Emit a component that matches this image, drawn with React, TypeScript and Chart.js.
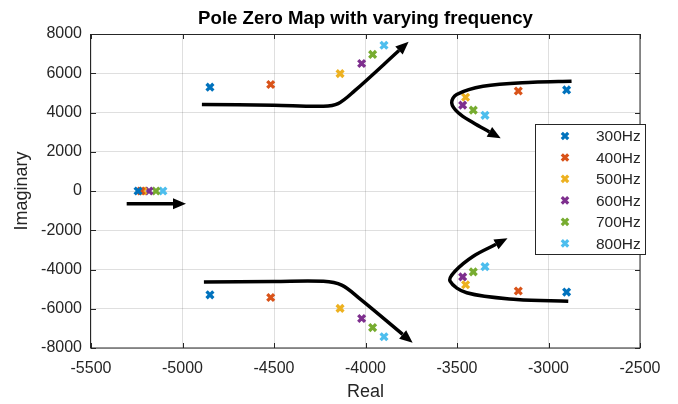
import React, { useEffect, useRef } from "react";
import { Chart, registerables } from "chart.js";

Chart.register(...registerables);

// ---- data ----
const FREQ_LABELS = ["300Hz", "400Hz", "500Hz", "600Hz", "700Hz", "800Hz"];
const COLORS = ["#0072BD", "#D95319", "#EDB120", "#7E2F8E", "#77AC30", "#4DBEEE"];

const LEFT_POLE_RE = [-4850, -4518, -4139, -4021, -3961, -3899];
const LEFT_POLE_IM = [5290, 5427, 5980, 6497, 6960, 7425];
const RIGHT_POLE_RE = [-2901, -3165, -3453, -3469, -3411, -3347];
const RIGHT_POLE_IM = [5150, 5095, 4775, 4375, 4120, 3855];
const REAL_POLE_RE = [-5243, -5227, -5216, -5183, -5145, -5107];
const REAL_POLE_IM = [0, 0, 0, 0, 0, 0];

// arrow paths (data coordinates); last point = base of arrowhead
const ARROW_UPPER_LEFT = [
  [-4894, 4408], [-4500, 4370], [-4230, 4320], [-4150, 4450], [-4060, 5100], [-3817, 7159],
];
const ARROW_LOWER_LEFT = [
  [-4883, -4640], [-4500, -4610], [-4230, -4600], [-4130, -4800], [-4030, -5500], [-3797, -7307],
];
const ARROW_UPPER_RIGHT = [
  [-2874, 5595], [-3085, 5544], [-3358, 5340], [-3502, 4917], [-3529, 4494], [-3493, 3985], [-3411, 3475], [-3323, 3011],
];
const ARROW_LOWER_RIGHT = [
  [-2892, -5615], [-3174, -5529], [-3447, -5187], [-3538, -4596], [-3511, -4087], [-3411, -3322], [-3287, -2716],
];
const ARROW_REAL = [
  [-5305, -650], [-5052, -650],
];

const X_MIN = -5500, X_MAX = -2500, X_STEP = 500;
const Y_MIN = -8000, Y_MAX = 8000, Y_STEP = 2000;

const TITLE = "Pole Zero Map with varying frequency";
const X_TITLE = "Real";
const Y_TITLE = "Imaginary";

const FONT = '"Liberation Sans", Arial, Helvetica, sans-serif';
const AXIS_COLOR = "#262626";

const ARROWS = [ARROW_UPPER_LEFT, ARROW_LOWER_LEFT, ARROW_UPPER_RIGHT, ARROW_LOWER_RIGHT, ARROW_REAL];

const decorPlugin = {
  id: "decor",
  afterDatasetsDraw(chart: any) {
    const ctx = chart.ctx;
    const ca = chart.chartArea;
    ctx.save();
    ctx.beginPath();
    ctx.rect(ca.left, ca.top, ca.right - ca.left, ca.bottom - ca.top);
    ctx.clip();
    chart.data.datasets.forEach((ds: any, i: number) => {
      if (!ds.isArrow) return;
      const pts = chart.getDatasetMeta(i).data;
      const last = pts[pts.length - 1];
      const prev = pts[pts.length - 2];
      let dx = last.x - (last.cp1x ?? prev.x);
      let dy = last.y - (last.cp1y ?? prev.y);
      if (Math.hypot(dx, dy) < 0.5) { dx = last.x - prev.x; dy = last.y - prev.y; }
      const len = Math.hypot(dx, dy) || 1;
      const ux = dx / len, uy = dy / len;
      const L = 13, W = 5.5;
      const tipX = last.x + ux * L, tipY = last.y + uy * L;
      ctx.beginPath();
      ctx.moveTo(tipX, tipY);
      ctx.lineTo(last.x - uy * W, last.y + ux * W);
      ctx.lineTo(last.x + uy * W, last.y - ux * W);
      ctx.closePath();
      ctx.fillStyle = "#000";
      ctx.fill();
    });
    ctx.restore();
  },
  afterDraw(chart: any) {
    const ctx = chart.ctx;
    const ca = chart.chartArea;
    const xs = chart.scales.x, ys = chart.scales.y;
    ctx.save();
    // axes box
    ctx.strokeStyle = AXIS_COLOR;
    ctx.lineWidth = 1;
    ctx.strokeRect(Math.round(ca.left) - 0.5, Math.round(ca.top) + 0.5, Math.round(ca.right - ca.left) + 0.5, Math.round(ca.bottom - ca.top) - 0.5);
    // inward ticks
    ctx.beginPath();
    const T = 5;
    xs.ticks.forEach((t: any) => {
      const px = Math.round(xs.getPixelForValue(t.value)) + 0.5;
      ctx.moveTo(px, ca.bottom); ctx.lineTo(px, ca.bottom - T);
      ctx.moveTo(px, ca.top); ctx.lineTo(px, ca.top + T);
    });
    ys.ticks.forEach((t: any) => {
      const py = Math.round(ys.getPixelForValue(t.value)) + 0.5;
      ctx.moveTo(ca.left, py); ctx.lineTo(ca.left + T, py);
      ctx.moveTo(ca.right, py); ctx.lineTo(ca.right - T, py);
    });
    ctx.stroke();

    // title
    ctx.fillStyle = "#000";
    ctx.font = `bold 18.6px ${FONT}`;
    ctx.textAlign = "center";
    ctx.textBaseline = "middle";
    ctx.fillText(TITLE, (ca.left + ca.right) / 2, 19);

    // legend
    const lx = 535, ly = 124, lw = 110, lh = 130;
    ctx.fillStyle = "#fff";
    ctx.fillRect(lx, ly, lw, lh);
    ctx.strokeStyle = AXIS_COLOR;
    ctx.lineWidth = 1;
    ctx.strokeRect(lx + 0.5, ly + 0.5, lw, lh);
    ctx.font = `15.5px ${FONT}`;
    ctx.textAlign = "left";
    ctx.textBaseline = "middle";
    FREQ_LABELS.forEach((lab, i) => {
      const cy = 136 + i * 21.47;
      const cx = 565;
      const r = 3.2;
      ctx.strokeStyle = COLORS[i];
      ctx.lineWidth = 3.2;
      ctx.beginPath();
      ctx.moveTo(cx - r, cy - r); ctx.lineTo(cx + r, cy + r);
      ctx.moveTo(cx + r, cy - r); ctx.lineTo(cx - r, cy + r);
      ctx.stroke();
      ctx.fillStyle = AXIS_COLOR;
      ctx.fillText(lab, 596, cy + 1);
    });
    ctx.restore();
  },
};

export default function App() {
  const ref = useRef<HTMLCanvasElement | null>(null);
  useEffect(() => {
    document.body.style.margin = "0";
    if (!ref.current) return;
    const markerSets = FREQ_LABELS.map((lab, i) => ({
      label: lab,
      data: [
        { x: LEFT_POLE_RE[i], y: LEFT_POLE_IM[i] },
        { x: LEFT_POLE_RE[i], y: -LEFT_POLE_IM[i] },
        { x: RIGHT_POLE_RE[i], y: RIGHT_POLE_IM[i] },
        { x: RIGHT_POLE_RE[i], y: -RIGHT_POLE_IM[i] },
        { x: REAL_POLE_RE[i], y: REAL_POLE_IM[i] },
      ],
      showLine: false,
      pointStyle: "crossRot",
      pointRadius: 4.8,
      pointBorderWidth: 3.3,
      borderColor: COLORS[i],
      backgroundColor: COLORS[i],
      order: 1,
    }));
    const arrowSets = ARROWS.map((arr) => ({
      label: "",
      isArrow: true,
      data: arr.map(([x, y]) => ({ x, y })),
      showLine: true,
      borderColor: "#000",
      borderWidth: 3.5,
      pointRadius: 0,
      tension: 0.35,
      borderCapStyle: "butt",
      borderJoinStyle: "round",
      fill: false,
      order: 0,
    }));

    const chart = new Chart(ref.current, {
      type: "scatter",
      data: { datasets: [...markerSets, ...arrowSets] as any },
      options: {
        animation: false,
        responsive: false,
        events: [],
        layout: { padding: { top: 34, right: 38, left: 0, bottom: 0 } },
        plugins: {
          legend: { display: false },
          title: { display: false },
          tooltip: { enabled: false },
        },
        scales: {
          x: {
            type: "linear",
            min: X_MIN,
            max: X_MAX,
            ticks: {
              stepSize: X_STEP,
              callback: (v: any) => String(v),
              color: AXIS_COLOR,
              font: { family: FONT, size: 16 },
              padding: 11,
              maxRotation: 0,
              autoSkip: false,
            },
            grid: { color: "rgba(38,38,38,0.15)", drawTicks: false },
            border: { display: false },
            title: {
              display: true,
              text: X_TITLE,
              color: AXIS_COLOR,
              font: { family: FONT, size: 18 },
              padding: { top: 0, bottom: 1 },
            },
            afterFit: (s: any) => { s.height = 56; },
          },
          y: {
            type: "linear",
            min: Y_MIN,
            max: Y_MAX,
            ticks: {
              stepSize: Y_STEP,
              callback: (v: any) => String(v),
              color: AXIS_COLOR,
              font: { family: FONT, size: 16 },
              padding: 9,
              autoSkip: false,
            },
            grid: { color: "rgba(38,38,38,0.15)", drawTicks: false },
            border: { display: false },
            title: {
              display: true,
              text: Y_TITLE,
              color: AXIS_COLOR,
              font: { family: FONT, size: 18 },
              padding: { top: 11, bottom: 0 },
            },
            afterFit: (s: any) => { s.width = 91; },
          },
        },
      } as any,
      plugins: [decorPlugin],
    });
    return () => chart.destroy();
  }, []);
  return (
    <div style={{ position: "fixed", left: 0, top: 0, width: 678, height: 404, background: "#fff" }}>
      <canvas ref={ref} width={678} height={404} style={{ width: 678, height: 404, display: "block" }} />
    </div>
  );
}
